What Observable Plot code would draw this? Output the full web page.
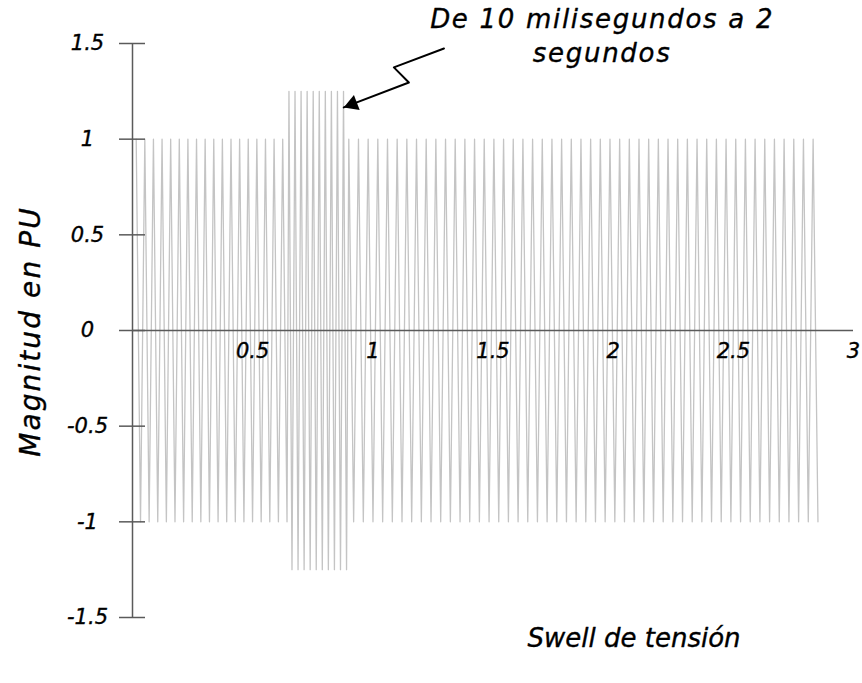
<!DOCTYPE html>
<html><head><meta charset="utf-8">
<script src="https://cdn.jsdelivr.net/npm/d3@7"></script>
<script src="https://cdn.jsdelivr.net/npm/@observablehq/plot@0.6"></script>
<style>body{margin:0;background:#fff} #chart{width:862px;height:683px}</style>
</head><body><div id="chart"></div>
<script>
// Axis ticks
const xTicks = [0.5, 1, 1.5, 2, 2.5, 3];
const yTicks = [-1.5, -1, -0.5, 0, 0.5, 1, 1.5];
// Waveform segments: first crest, last crest, crest count, amplitude
const segFirstCrest = [0.0154, 0.651, 0.900];
const segLastCrest  = [0.625, 0.878, 2.832];
const segCrests     = [18, 10, 49];
const segAmp        = [1, 1.25, 1];
// Texts
const xTitle = "Swell de tensión";
const yTitle = "Magnitud en PU";
const noteText = ["De 10 milisegundos a 2\nsegundos"];
const noteX = [1.95];
const noteY = [1.55];
// Annotation arrow path (data units)
const arrowX = [1.296, 1.0875, 1.15, 0.879];
const arrowY = [1.474, 1.375, 1.296, 1.166];

// Build waveform vertices from the segment parameters
const wave = [];
segFirstCrest.forEach((f, i) => {
  const n = segCrests[i];
  const p = n > 1 ? (segLastCrest[i] - f) / (n - 1) : 0.036;
  for (let j = 0; j < n; j++) {
    const t = f + j * p;
    wave.push({x: t, y: segAmp[i]});
    wave.push({x: t + p / 2, y: -segAmp[i]});
  }
});
const arrow = arrowX.map((x, i) => ({x, y: arrowY[i]}));
const tip = [arrow[arrow.length - 1]];

const font = "DejaVu Sans";
const txt = {fontStyle: "italic", fill: "#000", stroke: "#000", strokeWidth: 0.35};
const chart = Plot.plot({
  width: 862, height: 683,
  marginLeft: 132, marginRight: 9, marginTop: 43, marginBottom: 66,
  x: {domain: [0, 3], axis: null},
  y: {domain: [-1.5, 1.5], axis: null},
  style: {fontFamily: font, background: "white"},
  marks: [
    Plot.line(wave, {x: "x", y: "y", stroke: "#c4c4c4", strokeWidth: 1.3}),
    Plot.ruleY([0], {x1: 0, x2: 3, stroke: "#5a5a5a", strokeWidth: 1.5}),
    Plot.ruleX([0], {y1: -1.5, y2: 1.5, stroke: "#5a5a5a", strokeWidth: 1.5}),
    Plot.ruleY(yTicks, {y: d => d, x1: 0, x2: 0, insetLeft: -13, insetRight: -13, stroke: "#5a5a5a", strokeWidth: 1.5}),
    Plot.text(yTicks, {x: d => 0, y: d => d, text: d => String(d), dx: -45, textAnchor: "middle", fontSize: 21, ...txt}),
    Plot.text(xTicks, {x: d => d, y: d => 0, text: d => String(d), dy: 21, textAnchor: "middle", fontSize: 21, ...txt}),
    Plot.text([xTitle], {frameAnchor: "bottom", text: d => d, textAnchor: "middle", dx: 141, dy: 29, fontSize: 26, ...txt}),
    Plot.text([yTitle], {frameAnchor: "left", text: d => d, textAnchor: "middle", dx: -101, dy: 1, rotate: -90, fontSize: 28, ...txt}),
    Plot.text(noteText, {x: d => noteX[0], y: d => noteY[0], text: d => d, dx: 1, fontSize: 26, lineHeight: 1.3, ...txt}),
    Plot.line(arrow, {x: "x", y: "y", stroke: "black", strokeWidth: 2}),
    Plot.dot(tip, {x: "x", y: "y", symbol: "triangle", r: 6, fill: "black", stroke: "none", rotate: -111, dx: 8.7, dy: -3.3})
  ]
});
// widen the letter spacing of the two long labels, as in the reference
d3.select(chart).selectAll("text").each(function () {
  const t = this.textContent;
  if (t === yTitle) this.style.letterSpacing = "2.1px";
  else if (t.startsWith("De 10")) this.style.letterSpacing = "1.7px";
});
document.getElementById("chart").append(chart);
</script>
</body></html>
